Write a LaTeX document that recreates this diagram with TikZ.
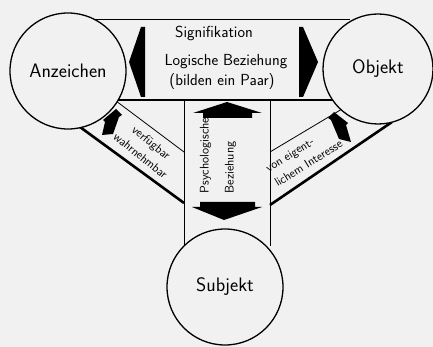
\documentclass[tikz,border=0pt]{standalone}
\usepackage{tikz}
\definecolor{paper}{RGB}{241,241,241}
\tikzset{
  thinband/.style={line width=0.8pt},
  thickband/.style={line width=2.6pt},
  ring/.style={circle, draw, line width=1.3pt, fill=paper, inner sep=0pt},
  pfeil/.style={fill=black},
  bigtext/.style={font=\sffamily\fontsize{19.5}{22}\selectfont},
  midtext/.style={font=\sffamily\fontsize{16}{18}\selectfont},
  smalltext/.style={font=\sffamily\fontsize{12}{17}\selectfont}
}

\begin{document}
\begin{tikzpicture}[x=1pt,y=-1pt]
                    % Background
                    \fill[paper] (0,0) rectangle (433,347);
                    \useasboundingbox (0,0) rectangle (433,347);
                    % Band corners
                    \coordinate (sigTL) at (95,19);
                    \coordinate (sigTR) at (350,19);
                    \coordinate (sigBL) at (110,100);
                    \coordinate (sigBR) at (336,100);
                    \coordinate (psyTL) at (184,100);
                    \coordinate (psyBL) at (184,246);
                    \coordinate (psyTR) at (270,100);
                    \coordinate (psyBR) at (270,246);
                    \coordinate (verfA) at (80,127);
                    \coordinate (verfB) at (184,203);
                    \coordinate (verfC) at (116,101);
                    \coordinate (verfD) at (184,152);
                    \coordinate (vonA) at (270,205);
                    \coordinate (vonB) at (392,122);
                    \coordinate (vonC) at (270,152);
                    \coordinate (vonD) at (342,109);
                    % Bands
                    \draw[thinband] (sigTL) -- (sigTR);
                    \draw[thinband] (psyTL) -- (psyBL);
                    \draw[thinband] (psyTR) -- (psyBR);
                    \draw[thinband] (verfC) -- (verfD);
                    \draw[thinband] (vonC) -- (vonD);
                    \draw[thickband] (sigBL) -- (sigBR);
                    \draw[thickband] (verfA) -- (verfB);
                    \draw[thickband] (vonA) -- (vonB);
                    % Nodes
                    \node[ring, minimum size=116pt, bigtext] (anz) at (68,71) {Anzeichen};
                    \node[ring, minimum size=110pt, bigtext] (obj) at (378,69) {Objekt};
                    \node[ring, minimum size=116pt, bigtext] (subj) at (225,287) {Subjekt};
                    % Arrows
                    \fill[pfeil] (141,27) -- (129,62) -- (141,97) -- (145,97) -- (145,27) -- cycle;
                    \fill[pfeil] (303,27) -- (318,62) -- (303,97) -- (299,97) -- (299,27) -- cycle;
                    \fill[pfeil] (227,102) -- (262,113) -- (252,113) -- (252,118) -- (203,118) -- (203,113) -- (193,113) -- cycle;
                    \fill[pfeil] (200,202) -- (255,202) -- (255,207) -- (262,207) -- (224,220) -- (192,207) -- (200,207) -- cycle;
                    \fill[pfeil] (116,109) -- (122,115) -- (119,117) -- (113,134) -- (102,135) -- (105,122) -- (103,120) -- cycle;
                    \fill[pfeil] (334,112) -- (328,118) -- (331,120) -- (339,139) -- (351,142) -- (346,125) -- (348,123) -- cycle;
                    % Labels
                    \node[midtext] (sig) at (214,33) {Signifikation};
                    \node[midtext] (logik) at (226,62) {Logische Beziehung};
                    \node[midtext] (paar) at (222,82) {(bilden ein Paar)};
                    \node[smalltext, rotate=-39, align=center] (verf) at (146,149) {verfügbar\\wahrnehmbar};
                    \node[font=\sffamily\fontsize{12.5}{25}\selectfont, rotate=90, align=left, anchor=west] (psy) at (218,197) {Psychologische\\Beziehung};
                    \node[smalltext, rotate=32, align=left] (von) at (304,156) {von eigent-\\lichem Interesse};
                \end{tikzpicture}
\end{document}
